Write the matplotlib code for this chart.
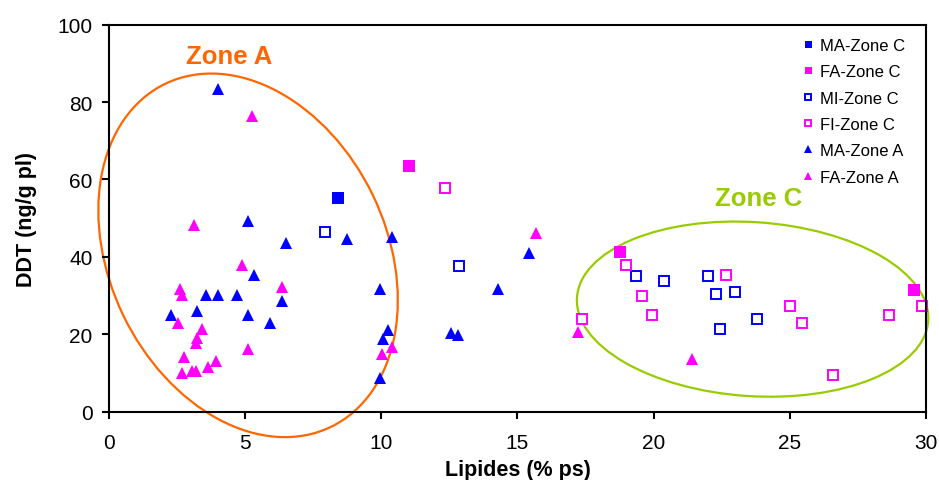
import numpy as np
import matplotlib
matplotlib.use("Agg")
import matplotlib.pyplot as plt
from matplotlib.patches import Ellipse
from matplotlib import transforms

# data (Lipides % ps, DDT ng/g pl)
ma_c_x = [8.40]
ma_c_y = [55.1]

fa_c_x = [11.03, 18.77, 29.56]
fa_c_y = [63.6, 41.2, 31.5]

mi_c_x = [7.94, 12.86, 19.34, 20.37, 21.99, 22.28, 23.01, 22.44, 23.82]
mi_c_y = [46.4, 37.6, 35.0, 33.9, 35.0, 30.3, 30.9, 21.4, 24.0]

fi_c_x = [12.35, 18.97, 19.56, 19.93, 22.65, 17.36, 25.0, 25.44, 26.61, 28.67, 29.86]
fi_c_y = [57.8, 38.0, 29.8, 25.0, 35.4, 24.0, 27.2, 23.0, 9.5, 25.1, 27.3]

ma_a_x = [3.98, 5.08, 6.49, 8.73, 10.38, 5.30, 3.55, 3.98, 4.71, 6.34, 9.93,
          2.28, 3.24, 5.08, 5.89, 10.23, 10.07, 9.93, 12.56, 12.81, 14.27, 15.44]
ma_a_y = [83.5, 49.4, 43.5, 44.6, 45.1, 35.4, 30.2, 30.2, 30.2, 28.5, 31.7,
          24.9, 25.9, 24.9, 22.9, 21.2, 18.7, 8.7, 20.3, 19.7, 31.7, 41.0]

fa_a_x = [5.23, 3.10, 4.86, 6.34, 2.58, 2.66, 2.51, 3.40, 3.24, 3.18, 2.73,
          2.67, 3.04, 3.19, 3.62, 3.92, 5.08, 10.01, 10.40, 15.67, 17.21, 21.41]
fa_a_y = [76.5, 48.3, 38.0, 32.2, 31.7, 30.2, 22.9, 21.4, 19.0, 17.7, 14.1,
          10.0, 10.4, 10.4, 11.5, 13.0, 16.3, 15.0, 16.7, 46.2, 20.7, 13.5]

x_ticks = [0, 5, 10, 15, 20, 25, 30]
y_ticks = [0, 20, 40, 60, 80, 100]

blue = "#0000FF"
pink = "#FF00FF"

plt.rcParams['font.family'] = ['Liberation Sans', 'DejaVu Sans']

fig = plt.figure(figsize=(9.39, 4.81), dpi=100)
ax = fig.add_axes([0.1164, 0.142, 0.8694, 0.8046])

# squares first, triangles on top (same order as the legend)
ax.plot(ma_c_x, ma_c_y, 's', color=blue, ms=8.4, mew=0, label='MA-Zone C', clip_on=False)
ax.plot(fa_c_x, fa_c_y, 's', color=pink, ms=8.4, mew=0, label='FA-Zone C', clip_on=False)
ax.plot(mi_c_x, mi_c_y, 's', mec=blue, mfc='white', ms=6.6, mew=1.4, label='MI-Zone C', clip_on=False)
ax.plot(fi_c_x, fi_c_y, 's', mec=pink, mfc='white', ms=6.6, mew=1.4, label='FI-Zone C', clip_on=False)
ax.plot(ma_a_x, ma_a_y, '^', color=blue, ms=9.3, mew=0, label='MA-Zone A', clip_on=False)
ax.plot(fa_a_x, fa_a_y, '^', color=pink, ms=9.3, mew=0, label='FA-Zone A', clip_on=False)

ax.set_xlim(0, 30)
ax.set_ylim(0, 100)
ax.set_xticks(x_ticks)
ax.set_yticks(y_ticks)
ax.tick_params(direction='out', length=5, width=1.5, labelsize=15)
ax.tick_params(axis='x', pad=10.5)
ax.tick_params(axis='y', pad=7)
for s in ax.spines.values():
    s.set_linewidth(1.5)

ax.set_xlabel('Lipides (% ps)', fontsize=15.5, fontweight='bold', labelpad=5)
ax.set_ylabel('DDT (ng/g pl)', fontsize=15.5, fontweight='bold', labelpad=15)

# zone ellipses, sized in inches around a data centre
def zone_ellipse(cx, cy, w, h, ang, col):
    tr = fig.dpi_scale_trans + transforms.ScaledTranslation(cx, cy, ax.transData)
    e = Ellipse((0, 0), w, h, angle=ang, transform=tr, fill=False,
                edgecolor=col, lw=1.6, clip_on=False)
    ax.add_patch(e)

zone_ellipse(5.10, 40.4, 3.81, 2.77, -64.2, "#FF6600")
zone_ellipse(23.64, 26.5, 3.52, 1.74, -3.8, "#99CC00")

ax.text(4.40, 91.9, 'Zone A', color="#FF6600", fontsize=18.5, fontweight='bold',
        ha='center', va='center')
ax.text(23.87, 55.3, 'Zone C', color="#99CC00", fontsize=18.5, fontweight='bold',
        ha='center', va='center')

leg = ax.legend(loc='upper left', bbox_to_anchor=(0.848, 0.966), frameon=False,
                fontsize=12, markerscale=0.6, handlelength=0.8, handletextpad=0.3,
                labelspacing=0.68, borderaxespad=0, borderpad=0, numpoints=1)

fig.savefig('out.png', dpi=100)
